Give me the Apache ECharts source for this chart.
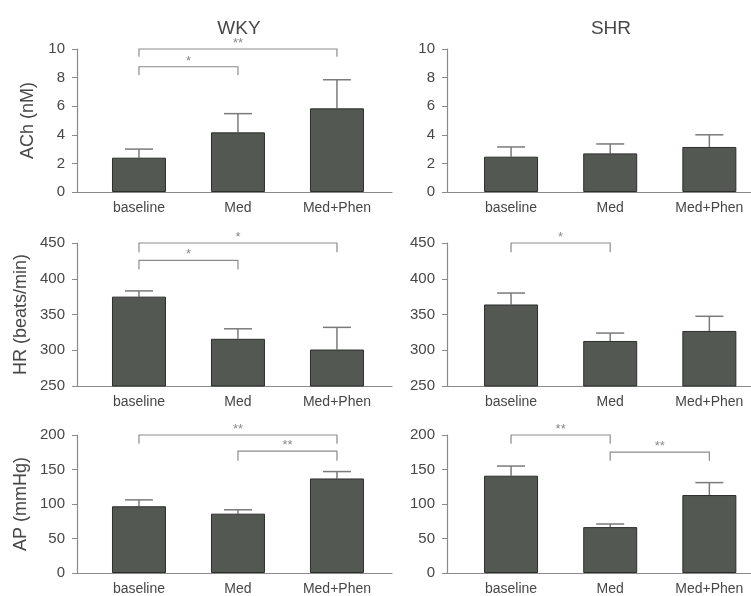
<!DOCTYPE html>
<html>
<head>
<meta charset="utf-8">
<script src="https://cdn.jsdelivr.net/npm/echarts@6/dist/echarts.min.js"></script>
<style>html,body{margin:0;padding:0;background:#fff;}#c{width:751px;height:596px;}</style>
</head>
<body>
<div id="c"></div>
<script>
// ---- data ----
const categories = ['baseline', 'Med', 'Med+Phen'];
const groups = ['WKY', 'SHR'];
const measures = ['ACh (nM)', 'HR (beats/min)', 'AP (mmHg)'];
const yMin = [0, 250, 0];
const yMax = [10, 450, 200];
const yStep = [2, 50, 50];

// mean values
const achWKY = [2.4, 4.17, 5.85];
const achSHR = [2.47, 2.7, 3.15];
const hrWKY = [375, 316, 301];
const hrSHR = [364, 313, 327];
const apWKY = [96.7, 86, 137];
const apSHR = [141, 66.5, 113];

// upper error bar ends
const achWKYErr = [3.0, 5.48, 7.85];
const achSHRErr = [3.15, 3.36, 4.0];
const hrWKYErr = [383, 330, 332];
const hrSHRErr = [380, 324, 347.5];
const apWKYErr = [106, 91.6, 147];
const apSHRErr = [155, 71, 131];

// significance brackets: [fromIndex, toIndex, level, dropTo, label]
const achWKYSig = [[0, 2, 10.0, 9.45, '**'], [0, 1, 8.76, 8.18, '*']];
const achSHRSig = [];
const hrWKYSig = [[0, 2, 450, 437, '*'], [0, 1, 425.8, 412.8, '*']];
const hrSHRSig = [[0, 1, 450, 437, '*']];
const apWKYSig = [[0, 2, 200, 187.4, '**'], [1, 2, 176.7, 162.7, '**']];
const apSHRSig = [[0, 1, 200, 187.4, '**'], [1, 2, 175.3, 162.7, '**']];

const means = [[achWKY, achSHR], [hrWKY, hrSHR], [apWKY, apSHR]];
const errs = [[achWKYErr, achSHRErr], [hrWKYErr, hrSHRErr], [apWKYErr, apSHRErr]];
const sigs = [[achWKYSig, achSHRSig], [hrWKYSig, hrSHRSig], [apWKYSig, apSHRSig]];

// ---- layout ----
const colLeft = [77, 447];
const colWidth = [315, 304];
const colXMin = [-0.626, -0.646];
const colXMax = [2.556, 2.42];
const rowTop = [49, 243, 435];
const rowHeight = [143, 143, 143];
const nameGaps = [40, 47, 47];

const FONT = '"Liberation Sans", Arial, sans-serif';
const TXT = '#474747';
const AX = '#8a8a8a';

const grid = [], xAxis = [], yAxis = [], series = [];
let gi = 0;
for (let r = 0; r < 3; r++) {
  for (let c = 0; c < 2; c++) {
    grid.push({left: colLeft[c], top: rowTop[r], width: colWidth[c], height: rowHeight[r], containLabel: false});
    xAxis.push({
      type: 'value', gridIndex: gi, min: colXMin[c], max: colXMax[c],
      axisLine: {show: true, onZero: false, lineStyle: {color: AX, width: 1.2}},
      axisTick: {show: false}, splitLine: {show: false},
      axisLabel: {
        customValues: [0, 1, 2], color: TXT, fontFamily: FONT, fontSize: 14, margin: 9,
        formatter: v => categories[Math.round(v)]
      }
    });
    yAxis.push({
      type: 'value', gridIndex: gi, min: yMin[r], max: yMax[r], interval: yStep[r],
      name: c === 0 ? measures[r] : '', nameLocation: 'middle', nameGap: nameGaps[r],
      nameTextStyle: {color: TXT, fontFamily: FONT, fontSize: 18},
      axisLine: {show: true, onZero: false, lineStyle: {color: AX, width: 1.2}},
      axisTick: {show: true, length: 5, lineStyle: {color: AX}},
      splitLine: {show: false},
      axisLabel: {color: TXT, fontFamily: FONT, fontSize: 15, margin: 12}
    });
    const m = means[r][c], e = errs[r][c];
    series.push({
      type: 'bar', xAxisIndex: gi, yAxisIndex: gi, barWidth: 54,
      data: m.map((v, i) => [i, v]),
      itemStyle: {color: '#535852', borderColor: '#2c2e2c', borderWidth: 1},
      silent: true, z: 2
    });
    series.push({
      type: 'custom', xAxisIndex: gi, yAxisIndex: gi, z: 1, silent: true,
      data: m.map((v, i) => [i, v, e[i]]),
      renderItem: (params, api) => {
        const p0 = api.coord([api.value(0), api.value(1)]);
        const p1 = api.coord([api.value(0), api.value(2)]);
        const st = {stroke: '#7a7a7a', lineWidth: 1.5};
        return {type: 'group', children: [
          {type: 'line', shape: {x1: p0[0], y1: p0[1], x2: p1[0], y2: p1[1]}, style: st},
          {type: 'line', shape: {x1: p1[0] - 14, y1: p1[1], x2: p1[0] + 14, y2: p1[1]}, style: st}
        ]};
      }
    });
    const s = sigs[r][c];
    if (s.length) {
      series.push({
        type: 'custom', xAxisIndex: gi, yAxisIndex: gi, z: 3, silent: true, clip: false,
        data: s.map(b => [b[0], b[1], b[2], b[3], b[4]]),
        renderItem: (params, api) => {
          const x1 = api.value(0), x2 = api.value(1), lv = api.value(2), dr = api.value(3);
          const lab = s[params.dataIndex][4];
          const a = api.coord([x1, dr]), b = api.coord([x1, lv]), cc = api.coord([x2, lv]), d = api.coord([x2, dr]);
          return {type: 'group', children: [
            {type: 'polyline', shape: {points: [a, b, cc, d]}, style: {stroke: '#8c8c8c', lineWidth: 1.2, fill: 'none'}},
            {type: 'text', style: {text: lab, x: (b[0] + cc[0]) / 2, y: b[1] + 1, align: 'center', verticalAlign: 'bottom',
              fill: '#8a8a8a', font: '13px ' + FONT}}
          ]};
        }
      });
    }
    gi++;
  }
}

const title = groups.map((g, c) => ({
  text: g, left: [234, 606][c], top: 14, textAlign: 'center',
  textStyle: {color: TXT, fontFamily: FONT, fontSize: 19, fontWeight: 'normal'}
}));

const chart = echarts.init(document.getElementById('c'), null, {renderer: 'canvas'});
chart.setOption({animation: false, backgroundColor: '#fff', title, grid, xAxis, yAxis, series});
</script>
</body>
</html>
